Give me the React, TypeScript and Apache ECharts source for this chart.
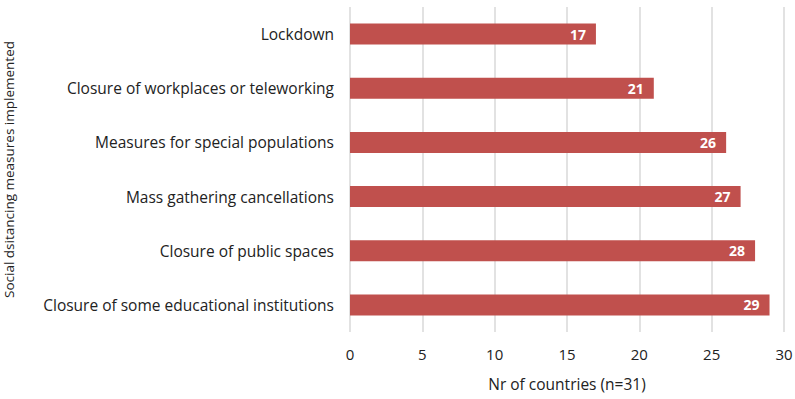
import React, { useEffect, useRef } from "react";
import * as echarts from "echarts";

const categories = [
  "Lockdown",
  "Closure of workplaces or teleworking",
  "Measures for special populations",
  "Mass gathering cancellations",
  "Closure of public spaces",
  "Closure of some educational institutions",
];
const values = [17, 21, 26, 27, 28, 29];
const xTicks = [0, 5, 10, 15, 20, 25, 30];

const FONT = "'Open Sans', 'Noto Sans', sans-serif";

export default function App() {
  const ref = useRef<HTMLDivElement>(null);
  useEffect(() => {
    if (!ref.current) return;
    const chart = echarts.init(ref.current, null, { renderer: "svg" });
    chart.setOption({
      animation: false,
      backgroundColor: "#ffffff",
      grid: {
        left: 350,
        right: 11,
        top: 7,
        bottom: 67,
        containLabel: false,
        outerBoundsMode: "none",
      },
      xAxis: {
        type: "value",
        min: xTicks[0],
        max: xTicks[xTicks.length - 1],
        interval: 5,
        name: "Nr of countries (n=31)",
        nameLocation: "middle",
        nameGap: 44,
        nameTextStyle: { fontFamily: FONT, fontSize: 15.5, color: "#222" },
        axisLine: { show: false },
        axisTick: { show: false },
        axisLabel: { fontFamily: FONT, fontSize: 15, color: "#222", margin: 14 },
        splitLine: { show: true, lineStyle: { color: "#d9d9d9", width: 1.5 } },
      },
      yAxis: {
        type: "category",
        inverse: true,
        data: categories,
        name: "Social dsitancing measures implemented",
        nameLocation: "middle",
        nameRotate: 90,
        nameGap: 334,
        nameTextStyle: { fontFamily: FONT, fontSize: 13.5, color: "#222" },
        axisLine: { show: false },
        axisTick: { show: false },
        axisLabel: { fontFamily: FONT, fontSize: 15.5, color: "#222", margin: 16 },
      },
      series: [
        {
          type: "bar",
          data: values,
          barWidth: 21,
          itemStyle: { color: "#c0504d" },
          label: {
            show: true,
            position: "insideRight",
            distance: 10,
            color: "#ffffff",
            fontWeight: "bold",
            fontFamily: FONT,
            fontSize: 14,
          },
        },
      ],
    });
    return () => chart.dispose();
  }, []);
  return (
    <div
      ref={ref}
      style={{ position: "absolute", left: 0, top: 0, width: 795, height: 399 }}
    />
  );
}
